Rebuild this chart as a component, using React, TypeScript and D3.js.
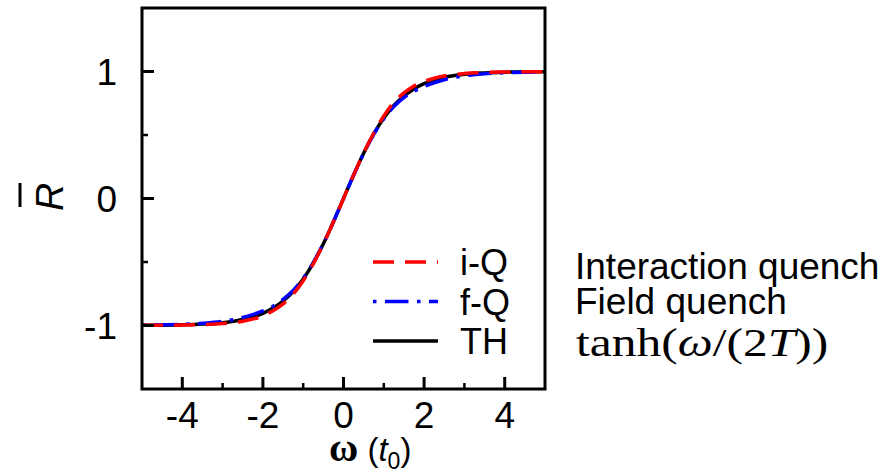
import React from "react";
import * as d3 from "d3";

// ω (t0) sample positions
const omega = [-5, -4.5, -4, -3.5, -3, -2.5, -2, -1.75, -1.5, -1.25, -1, -0.75, -0.5, -0.25, 0,
  0.25, 0.5, 0.75, 1, 1.25, 1.5, 1.75, 2, 2.5, 3, 3.5, 4, 4.5, 5];

// i-Q : interaction quench (red dashed)
const iQ = [-0.999, -0.998, -0.997, -0.993, -0.985, -0.966, -0.924, -0.884, -0.829, -0.754, -0.648, -0.514, -0.358, -0.184, 0,
  0.184, 0.358, 0.514, 0.65, 0.756, 0.831, 0.886, 0.922, 0.965, 0.984, 0.992, 0.996, 0.998, 0.999];

// f-Q : field quench (blue dash-dot)
const fQ = [-0.997, -0.995, -0.991, -0.983, -0.968, -0.937, -0.885, -0.848, -0.795, -0.725, -0.628, -0.505, -0.355, -0.183, 0,
  0.183, 0.355, 0.505, 0.628, 0.725, 0.795, 0.845, 0.882, 0.935, 0.966, 0.982, 0.99, 0.995, 0.997];

// TH : tanh(ω/(2T)) (black solid)
const TH = [-0.999, -0.998, -0.995, -0.989, -0.978, -0.953, -0.904, -0.863, -0.807, -0.732, -0.633, -0.508, -0.357, -0.184, 0,
  0.184, 0.357, 0.508, 0.633, 0.732, 0.807, 0.863, 0.904, 0.953, 0.978, 0.989, 0.995, 0.998, 0.999];

const xMajor = [-4, -2, 0, 2, 4];
const xMinor = [-3, -1, 1, 3];
const yMajor = [-1, 0, 1];
const yMinor = [-0.5, 0.5];

const legendItems = [
  { label: "i-Q", color: "#ff0000", dash: "21,11" },
  { label: "f-Q", color: "#0000ff", dash: "3.5,8.5,23.5,8.5" },
  { label: "TH", color: "#000000", dash: "" },
];

export default function App() {
  const L = 142, R = 545, T = 8, B = 389;
  const x = d3.scaleLinear().domain([-5, 5]).range([L, R]);
  const y = d3.scaleLinear().domain([-1.5, 1.5]).range([B, T]);
  const line = (vals: number[]) =>
    d3.line<number>().x((_, i) => x(omega[i])).y((v) => y(v)).curve(d3.curveMonotoneX)(vals) || "";

  const sans = "'Liberation Sans', Arial, Helvetica, sans-serif";
  const serif = "'Liberation Serif', 'Times New Roman', serif";

  return (
    <svg width={889} height={474} style={{ position: "absolute", left: 0, top: 0, background: "#fff" }}>
      <rect x={0} y={0} width={889} height={474} fill="#fff" />
      <defs>
        <clipPath id="plot">
          <rect x={L} y={T} width={R - L} height={B - T} />
        </clipPath>
      </defs>
      {/* curves */}
      <g clipPath="url(#plot)" fill="none" strokeWidth={3.5}>
        <path d={line(TH)} stroke="#000" />
        <path d={line(fQ)} stroke="#0000ff" strokeDasharray="3.5,8.5,23.5,8.5" />
        <path d={line(iQ)} stroke="#ff0000" strokeDasharray="21,11" />
      </g>
      {/* ticks */}
      <g stroke="#000">
        {xMajor.map((t) => (
          <line key={"xM" + t} x1={x(t)} x2={x(t)} y1={B} y2={B - 12} strokeWidth={3} />
        ))}
        {xMinor.map((t) => (
          <line key={"xm" + t} x1={x(t)} x2={x(t)} y1={B} y2={B - 6} strokeWidth={2.5} />
        ))}
        {yMajor.map((t) => (
          <line key={"yM" + t} x1={L} x2={L + 12} y1={y(t)} y2={y(t)} strokeWidth={3} />
        ))}
        {yMinor.map((t) => (
          <line key={"ym" + t} x1={L} x2={L + 6} y1={y(t)} y2={y(t)} strokeWidth={2.5} />
        ))}
      </g>
      {/* frame */}
      <rect x={L} y={T} width={R - L} height={B - T} fill="none" stroke="#000" strokeWidth={3} />
      {/* tick labels */}
      <g fontFamily={sans} fontSize={37} fill="#000">
        {xMajor.map((t) => (
          <text key={"xl" + t} x={x(t)} y={428} textAnchor="middle">{t < 0 ? "-" + Math.abs(t) : String(t)}</text>
        ))}
        {yMajor.map((t) => (
          <text key={"yl" + t} x={117} y={y(t) + 13} textAnchor="end">{t < 0 ? "-" + Math.abs(t) : String(t)}</text>
        ))}
      </g>
      {/* y axis title: R with overline */}
      <g transform="translate(63,197) rotate(-90)">
        <text x={0} y={0} textAnchor="middle" fontFamily={sans} fontStyle="italic" fontSize={39}>R</text>
        <line x1={-10} x2={14} y1={-43} y2={-43} stroke="#000" strokeWidth={3} />
      </g>
      {/* x axis title */}
      <text x={329} y={461} fontFamily={sans} fontSize={33}>
        <tspan fontFamily={serif} fontSize={40} fontWeight="bold">ω</tspan>
        <tspan> (</tspan>
        <tspan fontStyle="italic">t</tspan>
        <tspan fontSize={23} dy={8}>0</tspan>
        <tspan dy={-8}>)</tspan>
      </text>
      {/* legend */}
      <g>
        {legendItems.map((it, i) => (
          <g key={it.label}>
            <line x1={373} x2={438} y1={262 + i * 39.5} y2={262 + i * 39.5} stroke={it.color}
              strokeWidth={3.5} strokeDasharray={it.dash || undefined} />
            <text x={460} y={275 + i * 39.5} fontFamily={sans} fontSize={36}>{it.label}</text>
          </g>
        ))}
      </g>
      {/* right annotations */}
      <text x={575} y={279} fontFamily={sans} fontSize={37}>Interaction quench</text>
      <text x={575} y={314} fontFamily={sans} fontSize={37}>Field quench</text>
      <g transform="translate(576,356) scale(1.27,1)">
        <text x={0} y={0} fontFamily={serif} fontSize={39}>
          tanh(<tspan fontStyle="italic">ω</tspan>/(2<tspan fontStyle="italic">T</tspan>))
        </text>
      </g>
    </svg>
  );
}
